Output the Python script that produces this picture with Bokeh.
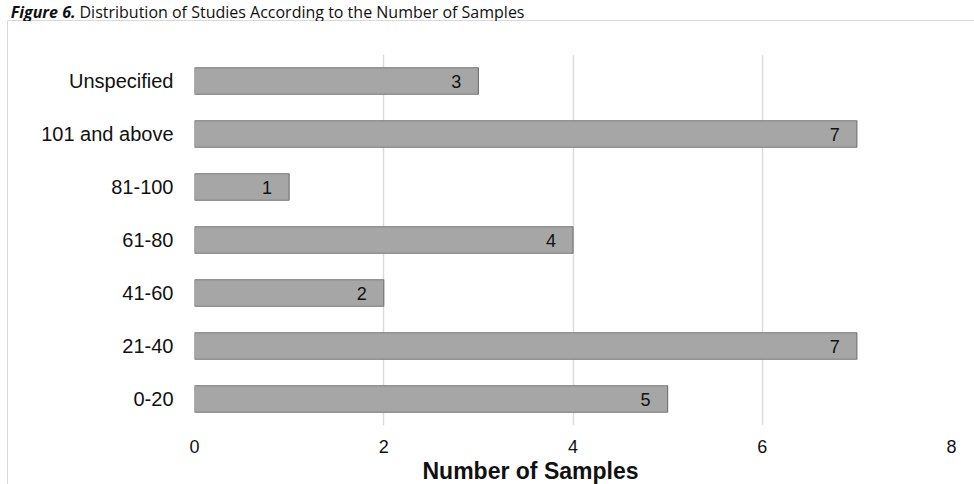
from bokeh.plotting import figure
from bokeh.layouts import column, row
from bokeh.models import Label, ColumnDataSource, FactorRange, Title, Spacer
from bokeh.core.properties import value
from bokeh.embed import file_html
from bokeh.resources import INLINE

categories = ["0-20", "21-40", "41-60", "61-80", "81-100", "101 and above", "Unspecified"]
counts = [5, 7, 2, 4, 1, 7, 3]
x_ticks = [0, 2, 4, 6, 8]
title_bold = "Figure 6."
title_rest = "Distribution of Studies According to the Number of Samples"
x_title = "Number of Samples"

W, H = 974, 484
CAP_H = 21
STRIP_W = 8
BORDER = "#d9d9d9"

# ---- caption strip (top) ----
cap = figure(width=W, height=CAP_H, output_backend="svg", toolbar_location=None,
             title_location=None,
             x_range=(0, W), y_range=(0, CAP_H), min_border=0,
             x_axis_location=None, y_axis_location=None)
cap.outline_line_color = None
cap.grid.visible = False
cap.add_layout(Label(x=75, y=10, text=title_bold, text_align="right",
                     text_baseline="middle", text_font="Open Sans",
                     text_font_style="bold italic", text_font_size="16px",
                     text_color="#111111"))
cap.add_layout(Label(x=79, y=10, text=title_rest, text_align="left",
                     text_baseline="middle", text_font="Open Sans",
                     text_font_size="16px", text_color="#111111"))
cap.segment(x0=[7], y0=[0.75], x1=[W], y1=[0.75], line_color=BORDER, line_width=1.5)

# ---- left border strip ----
PH = H - CAP_H
strip = Spacer(width=STRIP_W, height=PH,
               styles={"background": "linear-gradient(to right, #ffffff 7px, %s 7px)" % BORDER})

# ---- main chart ----
PW = W - STRIP_W
src = ColumnDataSource(dict(cat=categories, n=counts, lbl=[str(c) for c in counts]))

p = figure(width=PW, height=PH, output_backend="svg", toolbar_location=None,
           y_range=FactorRange(factors=categories, range_padding=0),
           x_range=(0, 8), min_border_left=186, min_border_right=23,
           min_border_top=33, min_border_bottom=59)
p.outline_line_color = None

p.hbar(y="cat", right="n", left=0, height=0.5, source=src,
       fill_color="#a6a6a6", line_color="#777777", line_width=1.2)
p.text(x="n", y="cat", text="lbl", source=src, text_align="right",
       text_baseline="middle", x_offset=-17, text_font=value("Liberation Sans"),
       text_font_size="18px", text_color="#111111")

p.ygrid.visible = False
p.xgrid.grid_line_color = "#dcdcdc"
p.xgrid.grid_line_width = 1.5
p.xaxis.ticker = x_ticks

for ax in (p.xaxis, p.yaxis):
    ax.axis_line_color = None
    ax.major_tick_line_color = None
    ax.minor_tick_line_color = None
    ax.major_tick_out = 0
    ax.major_tick_in = 0
    ax.minor_tick_out = 0
    ax.minor_tick_in = 0
    ax.major_label_text_font = "Liberation Sans"
    ax.major_label_text_color = "#111111"
p.xaxis.major_label_text_font_size = "18px"
p.xaxis.major_label_standoff = 14
p.yaxis.major_label_text_font_size = "20px"
p.yaxis.major_label_standoff = 21

p.add_layout(Title(text=x_title, align="left", offset=228, standoff=0,
                   text_font="Liberation Sans", text_font_style="bold",
                   text_font_size="23px", text_color="#111111"), "below")

layout = column(cap, row(strip, p))
open("out.html", "w").write(file_html(layout, INLINE))
